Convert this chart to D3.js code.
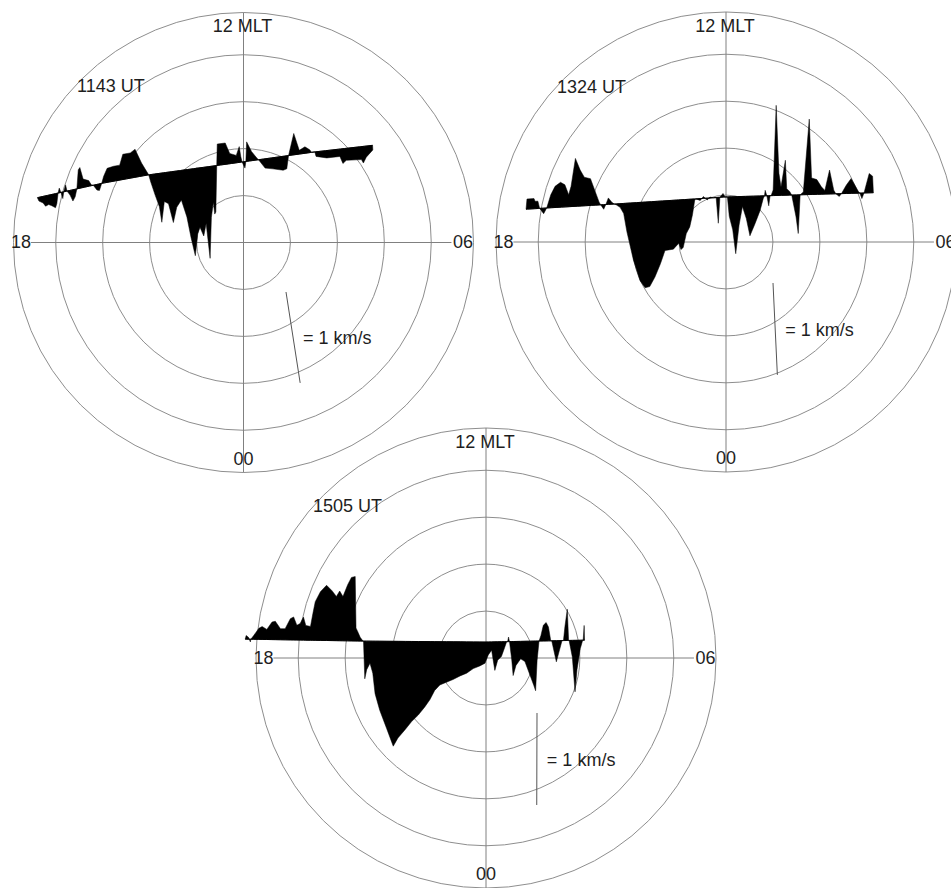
<!DOCTYPE html>
<html>
<head>
<meta charset="utf-8">
<script src="https://cdn.jsdelivr.net/npm/d3@7"></script>
<style>
  body { margin: 0; background: #fff; }
  text { font-family: "Liberation Sans", Arial, sans-serif; font-size: 18px; fill: #1e1e1e; }
</style>
</head>
<body>
<script>
// ---- data ----
var times = ["1143 UT", "1324 UT", "1505 UT"];
var ringColat = [10, 20, 30, 40, 49];   // degrees from the pole, last one is the rim
var speedUnit = 1;                        // km/s shown by the scale bar

// spacecraft tracks: [dawnward, noonward] distance from the pole, degrees
var track1143 = [[-43.7, 9.6], [-30.2, 12.6], [-20.3, 14.4], [-5.7, 16.4], [15.2, 19.3], [27.5, 20.7]];
var track1324 = [[-42.4, 7.0], [-23.6, 8.1], [0, 9.6], [31.3, 10.5]];
var track1505 = [[-50.2, 4.0], [-26.1, 3.6], [0, 3.4], [20.9, 3.8]];

// cross-track flow: [position along track (deg), km/s], positive sunward
var flow1143 = [[-43.9, 0], [-43.7, -0.04], [-42.9, -0.07], [-42.5, -0.11], [-41.8, -0.10], [-41.2, -0.12],
  [-40.5, -0.15], [-40.1, -0.11], [-39.5, 0], [-39.1, 0.05], [-38.9, 0], [-38.7, -0.07], [-38.3, 0],
  [-37.7, 0.07], [-37.6, 0], [-37.1, -0.05], [-36.7, -0.12], [-36.1, -0.08], [-35.5, 0], [-34.6, 0.20],
  [-34.2, 0.22], [-33.9, 0.09], [-32.8, 0.06], [-32.4, 0.01], [-32.0, 0], [-31.4, -0.06], [-30.9, -0.07],
  [-30.2, 0], [-29.6, 0.07], [-28.6, 0.15], [-27.2, 0.16], [-25.9, 0.16], [-24.9, 0.27], [-23.3, 0.27],
  [-22.2, 0.30], [-21.3, 0.14], [-20.2, 0], [-20.0, -0.08], [-19.5, -0.23], [-19.0, -0.36], [-19.0, -0.53],
  [-17.8, -0.31], [-17.0, -0.34], [-16.6, -0.55], [-15.4, -0.39], [-14.2, -0.32], [-13.6, -0.51],
  [-13.4, -0.74], [-13.1, -0.94], [-11.9, -0.71], [-11.2, -0.64], [-10.7, -0.74], [-9.8, -0.61],
  [-10.1, -0.99], [-8.5, -0.55], [-7.6, -0.39], [-7.7, -0.52], [-7.4, -0.50], [-5.7, 0], [-4.9, 0.23],
  [-3.2, 0.23], [-2.6, 0.11], [-1.3, 0.08], [-0.4, 0.17], [-0.4, 0.06], [-0.3, 0], [0.1, -0.07], [0.5, 0],
  [1.3, 0.21], [2.0, 0.10], [2.9, 0.02], [3.2, 0], [4.3, -0.10], [5.9, -0.12], [8.0, -0.15], [8.8, -0.14],
  [9.6, 0], [11.4, 0.23], [12.0, 0.04], [13.3, 0.07], [14.2, 0.03], [14.5, 0], [15.2, 0], [15.3, -0.05],
  [17.5, -0.08], [20.3, -0.08], [20.7, -0.16], [21.5, -0.13], [24.7, -0.14], [25.0, -0.18], [25.8, -0.12],
  [27.4, -0.05], [27.5, 0]];

var flow1324 = [[-42.6, 0], [-42.3, 0.11], [-40.8, 0.11], [-40.6, 0.08], [-40.0, 0.08], [-39.7, 0],
  [-38.9, -0.06], [-38.2, 0], [-37.2, 0.14], [-36.2, 0.23], [-35.0, 0.27], [-34.1, 0.24], [-33.4, 0.13],
  [-32.8, 0.22], [-31.6, 0.52], [-30.7, 0.39], [-29.9, 0.31], [-28.6, 0.29], [-27.8, 0.16], [-27.0, 0.03],
  [-26.7, 0], [-26.1, -0.05], [-25.6, 0], [-25.0, 0.07], [-24.3, 0.02], [-23.8, 0], [-23.4, -0.01],
  [-22.6, -0.04], [-21.9, -0.11], [-21.4, -0.31], [-20.3, -0.62], [-19.1, -0.85], [-18.1, -0.93],
  [-17.1, -0.92], [-15.9, -0.82], [-14.6, -0.68], [-13.5, -0.54], [-11.7, -0.53], [-10.5, -0.47],
  [-10.1, -0.54], [-9.6, -0.52], [-8.8, -0.37], [-8.0, -0.30], [-7.3, -0.17], [-6.7, -0.02], [-6.5, 0],
  [-5.5, -0.02], [-4.8, 0.02], [-4.0, -0.02], [-3.4, 0.01], [-2.7, 0], [-2.1, 0], [-1.9, -0.28], [-1.3, 0],
  [-0.6, 0.04], [-0.2, 0], [0.3, 0], [0.5, -0.21], [1.1, -0.36], [1.5, -0.62], [2.5, -0.31], [3.4, -0.11],
  [4.1, -0.24], [4.7, -0.43], [5.9, -0.30], [7.1, -0.16], [7.9, -0.03], [8.2, 0], [8.4, 0.06], [8.7, 0],
  [9.0, -0.11], [9.4, 0], [9.6, 0], [10.1, 0.06], [11.6, 0.98], [11.5, 0.24], [11.8, 0.09], [13.0, 0.38],
  [13.0, 0.07], [13.6, 0.04], [14.0, 0], [14.7, -0.24], [15.0, -0.42], [15.8, 0], [16.5, 0.03],
  [18.5, 0.82], [18.4, 0.18], [19.5, 0.16], [20.4, 0.08], [21.1, 0.04], [22.3, 0.26], [23.0, 0.04],
  [23.4, 0], [24.1, -0.03], [24.6, 0], [25.7, 0.09], [26.8, 0.16], [28.2, 0.02], [28.5, 0], [28.9, -0.06],
  [29.4, 0], [30.7, 0.21], [31.4, 0.18], [31.4, 0]];

var flow1505 = [[-51.3, 0], [-51.1, 0.04], [-50.6, 0.02], [-50.2, -0.03], [-50.1, 0], [-49.5, 0.04],
  [-48.4, 0.12], [-47.7, 0.14], [-46.7, 0.11], [-45.6, 0.19], [-44.9, 0.20], [-43.8, 0.12], [-42.8, 0.12],
  [-41.7, 0.23], [-41.0, 0.25], [-40.3, 0.16], [-39.6, 0.18], [-38.9, 0.25], [-38.4, 0.16], [-37.4, 0.15],
  [-36.9, 0.29], [-36.4, 0.42], [-35.3, 0.53], [-34.0, 0.60], [-32.8, 0.54], [-31.9, 0.48], [-31.2, 0.54],
  [-30.5, 0.48], [-29.5, 0.61], [-28.7, 0.69], [-27.9, 0.70], [-27.7, 0.14], [-27.4, 0.11], [-26.8, 0.04],
  [-26.2, 0], [-26.1, 0], [-25.8, -0.41], [-25.4, -0.31], [-24.7, -0.24], [-24.1, -0.35], [-23.6, -0.57],
  [-22.6, -0.75], [-21.1, -0.95], [-19.7, -1.14], [-18.7, -1.05], [-17.2, -0.96], [-15.8, -0.87],
  [-14.4, -0.80], [-13.0, -0.71], [-11.9, -0.63], [-10.9, -0.53], [-9.8, -0.47], [-8.4, -0.44],
  [-7.0, -0.41], [-5.5, -0.37], [-4.1, -0.34], [-2.7, -0.29], [-1.3, -0.26], [-0.2, -0.23], [0.5, -0.14],
  [1.2, -0.09], [1.9, -0.31], [2.5, -0.20], [3.3, -0.16], [4.0, -0.06], [4.4, 0], [4.6, 0], [4.8, 0.05],
  [5.0, 0], [5.5, -0.20], [5.8, -0.37], [6.4, -0.26], [7.4, -0.19], [8.3, -0.22], [9.4, -0.37],
  [10.2, -0.48], [10.6, -0.54], [10.9, -0.21], [11.3, 0], [11.7, 0.06], [12.2, 0.17], [12.8, 0.20],
  [13.3, 0.15], [13.8, 0], [14.0, 0], [15.0, -0.23], [16.2, 0], [16.5, 0], [16.8, 0.15], [17.3, 0.34],
  [17.6, 0], [17.7, 0], [18.4, -0.18], [19.0, -0.56], [19.4, -0.32], [20.1, -0.09], [20.6, 0], [20.7, 0],
  [20.9, 0.16], [21.0, 0]];

// ---- layout ----
var width = 951, height = 888;
var R = 230;
var panels = [
  {cx: 243.5, cy: 242.5, track: track1143, flow: flow1143, time: times[0], timeAt: [-166.5, -150.5], barAt: [42.5, 49.5]},
  {cx: 726,   cy: 242,   track: track1324, flow: flow1324, time: times[1], timeAt: [-169, -149],   barAt: [47, 41]},
  {cx: 486,   cy: 658,   track: track1505, flow: flow1505, time: times[2], timeAt: [-173, -146],   barAt: [51, 55]}
];

var svg = d3.select("body").append("svg")
    .attr("width", width)
    .attr("height", height);

svg.append("rect").attr("width", width).attr("height", height).attr("fill", "#fff");

var rim = d3.max(ringColat);
var x = d3.scaleLinear().domain([-rim, rim]).range([-R, R]);
var y = d3.scaleLinear().domain([-rim, rim]).range([R, -R]);
var speed = d3.scaleLinear().domain([0, speedUnit]).range([0, 92]);

panels.forEach(function(p){
	var g = svg.append("g")
	    .attr("transform", "translate(" + p.cx + "," + p.cy + ")");

	g.selectAll("circle")
	    .data(ringColat).enter()
	    .append("circle")
	    .attr("r", function(d){ return x(d); })
	    .attr("fill", "none")
	    .attr("stroke", "#8e8e8e")
	    .attr("stroke-width", 1);

	// noon-midnight and dawn-dusk lines
	g.append("line")
	    .attr("x1", 0).attr("x2", 0)
	    .attr("y1", y(rim)).attr("y2", y(-rim))
	    .attr("stroke", "#808080");
	g.append("line")
	    .attr("x1", x(-45.3)).attr("x2", x(44.3))
	    .attr("y1", 0).attr("y2", 0)
	    .attr("stroke", "#808080");

	g.append("text").attr("x", -1).attr("y", -210.5).attr("text-anchor", "middle").text("12 MLT");
	g.append("text").attr("x", 0).attr("y", 222).attr("text-anchor", "middle").text("00");
	g.append("text").attr("x", -232.5).attr("y", 5.5).text("18");
	g.append("text").attr("x", 229.5).attr("y", 5.5).attr("text-anchor", "end").text("06");
	g.append("text").attr("x", p.timeAt[0]).attr("y", p.timeAt[1]).text(p.time);

	// track geometry
	var tr = p.track;
	var trackY = d3.scaleLinear()
	    .domain(tr.map(function(d){ return d[0]; }))
	    .range(tr.map(function(d){ return d[1]; }));
	var a = tr[0], b = tr[tr.length - 1];
	var dx = x(b[0]) - x(a[0]), dy = y(b[1]) - y(a[1]);
	var len = Math.sqrt(dx * dx + dy * dy);
	var nx = dy / len, ny = -dx / len;   // unit normal, sunward

	var pts = p.flow.map(function(d){
		var bx = x(d[0]), by = y(trackY(d[0]));
		var s = speed(d[1]);
		return {bx: bx, by: by, tx: bx + s * nx, ty: by + s * ny};
	});

	var area = d3.area()
	    .x0(function(d){ return d.bx; })
	    .y0(function(d){ return d.by; })
	    .x1(function(d){ return d.tx; })
	    .y1(function(d){ return d.ty; });

	g.append("path")
	    .datum(pts)
	    .attr("d", area)
	    .attr("fill", "#000")
	    .attr("stroke", "#000")
	    .attr("stroke-width", 0.5)
	    .attr("stroke-linejoin", "miter");

	var base = pts.slice().sort(function(m, n){ return m.bx - n.bx; });
	g.append("path")
	    .datum(base)
	    .attr("d", d3.line().x(function(d){ return d.bx; }).y(function(d){ return d.by; }))
	    .attr("fill", "none")
	    .attr("stroke", "#000")
	    .attr("stroke-width", 1);

	// scale bar
	var bl = speed(speedUnit);
	var x0 = p.barAt[0], y0 = p.barAt[1];
	var x1 = x0 - bl * nx, y1 = y0 - bl * ny;
	g.append("line")
	    .attr("x1", x0).attr("y1", y0)
	    .attr("x2", x1).attr("y2", y1)
	    .attr("stroke", "#555")
	    .attr("stroke-width", 1);
	g.append("text")
	    .attr("x", (x0 + x1) / 2 + 10)
	    .attr("y", (y0 + y1) / 2 + 7)
	    .text("= " + speedUnit + " km/s");
});
</script>
</body>
</html>
